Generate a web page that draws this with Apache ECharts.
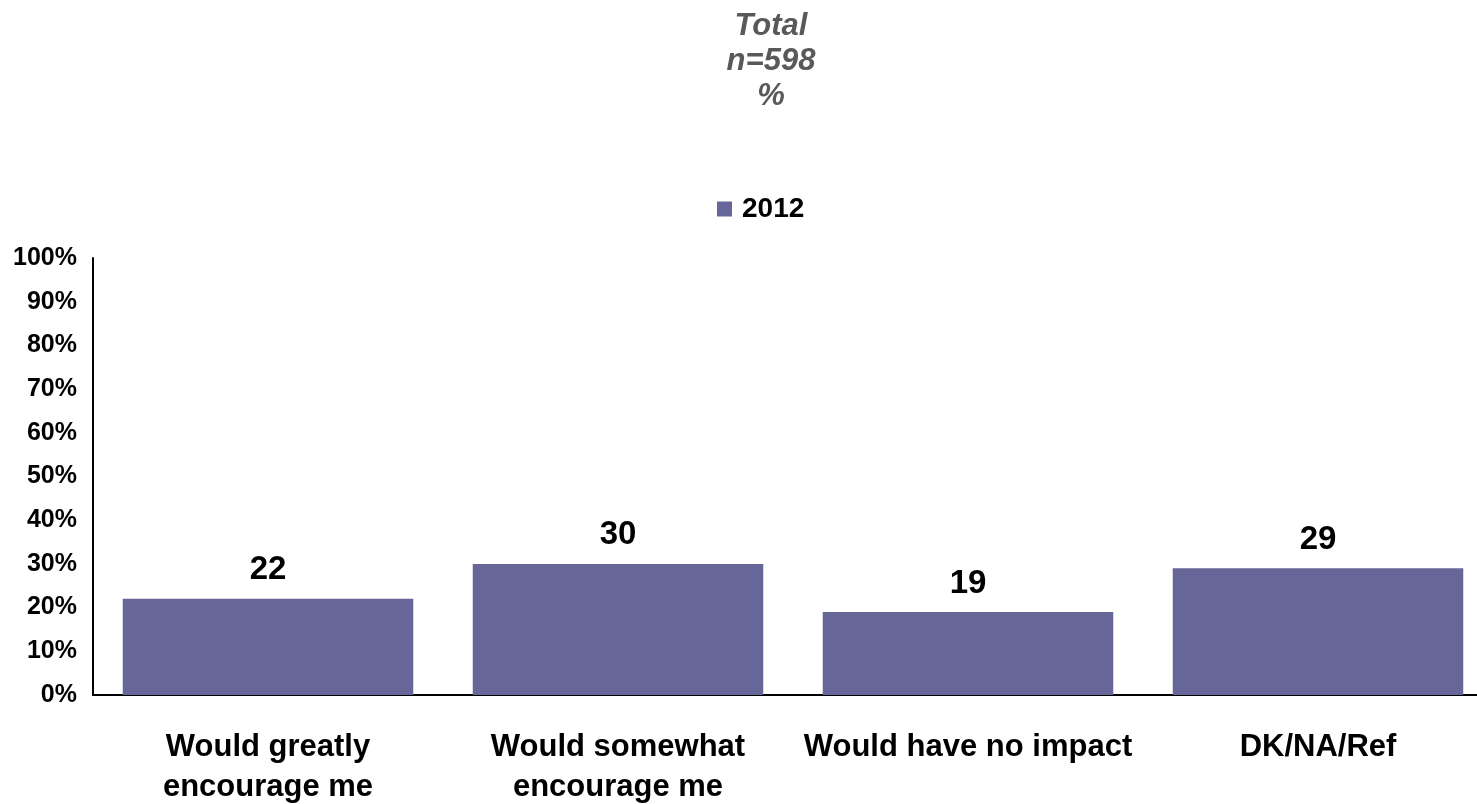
<!DOCTYPE html>
<html>
<head>
<meta charset="utf-8">
<script src="https://cdn.jsdelivr.net/npm/echarts@6/dist/echarts.min.js"></script>
<style>
  html, body { margin: 0; padding: 0; background: #fff; }
  #chart { width: 1477px; height: 804px; }
</style>
</head>
<body>
<div id="chart"></div>
<script>
const categories = [
  "Would greatly\nencourage me",
  "Would somewhat\nencourage me",
  "Would have no impact",
  "DK/NA/Ref"
];
const values2012 = [22, 30, 19, 29];
const seriesName = "2012";
const titleLines = ["Total", "n=598", "%"];

const FONT = "Liberation Sans, Arial, sans-serif";

const chart = echarts.init(document.getElementById("chart"));

const option = {
  backgroundColor: "#ffffff",
  animation: false,
  title: {
    text: titleLines.join("\n"),
    left: 766,
    textAlign: "center",
    top: 4,
    textStyle: {
      fontFamily: FONT,
      fontSize: 31,
      fontWeight: "bold",
      fontStyle: "italic",
      color: "#595959",
      lineHeight: 35
    }
  },
  legend: {
    data: [seriesName],
    top: 190,
    left: 712,
    itemWidth: 15,
    itemHeight: 15,
    icon: "rect",
    textStyle: {
      fontFamily: FONT,
      fontSize: 28,
      fontWeight: "bold",
      color: "#000",
      padding: [0, 0, 0, 5]
    }
  },
  grid: {
    left: 93,
    right: -16,
    top: 258,
    bottom: 109,
    containLabel: false,
    outerBoundsMode: "none"
  },
  xAxis: {
    type: "category",
    data: categories,
    axisLine: { lineStyle: { color: "#000", width: 2 } },
    axisTick: { show: false },
    axisLabel: {
      interval: 0,
      margin: 32,
      fontFamily: FONT,
      fontSize: 31,
      fontWeight: "bold",
      color: "#000",
      lineHeight: 40
    }
  },
  yAxis: {
    type: "value",
    min: 0,
    max: 100,
    interval: 10,
    axisLine: { show: true, lineStyle: { color: "#000", width: 2 } },
    axisTick: { show: false },
    splitLine: { show: false },
    axisLabel: {
      margin: 16,
      formatter: "{value}%",
      fontFamily: FONT,
      fontSize: 25,
      fontWeight: "bold",
      color: "#000"
    }
  },
  series: [
    {
      name: seriesName,
      type: "bar",
      data: values2012,
      barCategoryGap: "17%",
      itemStyle: { color: "#666699" },
      label: {
        show: true,
        position: "top",
        distance: 12,
        fontFamily: FONT,
        fontSize: 33,
        fontWeight: "bold",
        color: "#000"
      }
    }
  ]
};

chart.setOption(option);
</script>
</body>
</html>
